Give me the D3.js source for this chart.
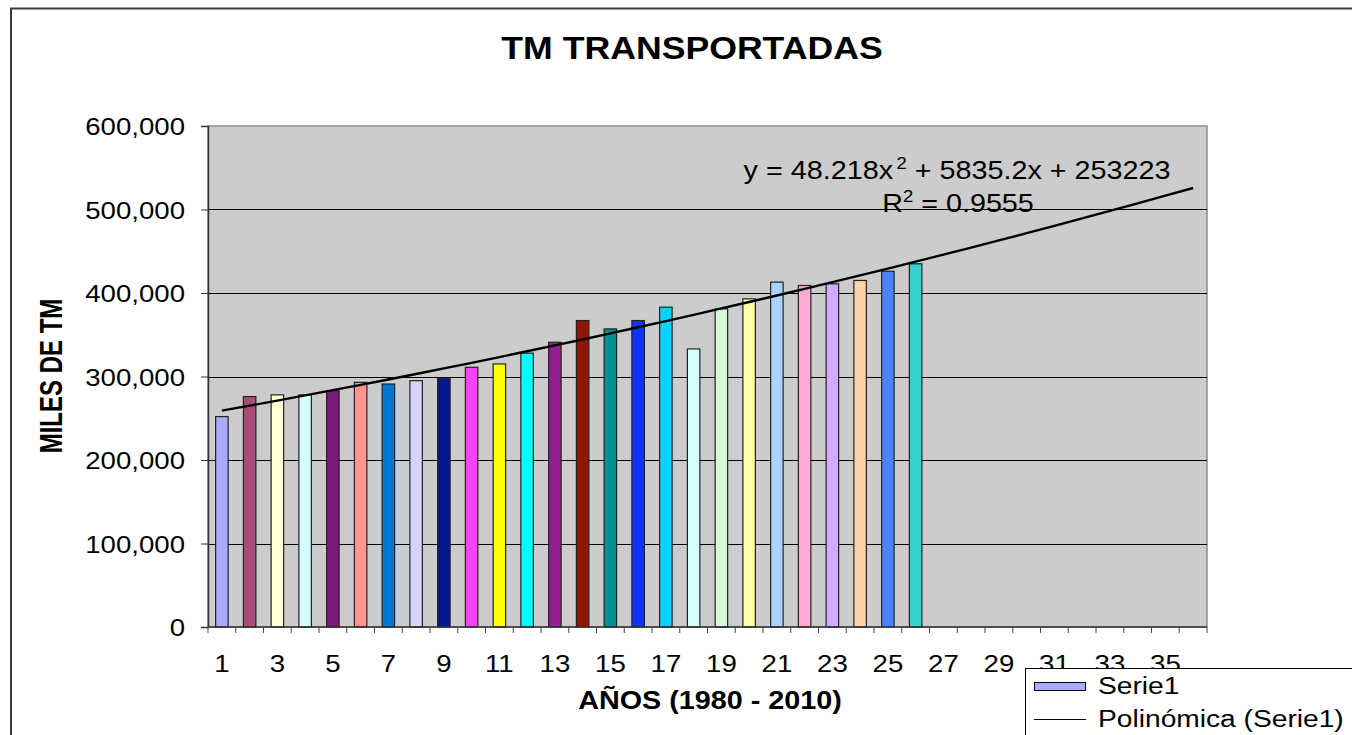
<!DOCTYPE html>
<html>
<head>
<meta charset="utf-8">
<script src="https://cdn.jsdelivr.net/npm/d3@7"></script>
<style>
  html, body { margin: 0; padding: 0; background: #fff; }
  svg { display: block; }
  text { font-family: Arial, "Liberation Sans", sans-serif; fill: #000; }
</style>
</head>
<body>
<svg id="chart" width="1352" height="735"></svg>
<script>
// ---------- data ----------
const categories = d3.range(1, 37);            // 1 .. 36
const tickLabels = d3.range(1, 37, 2);         // 1,3,...,35
const values = [252000, 276000, 278000, 278000, 283000, 293000, 291000, 295000, 298000,
                311000, 315000, 328000, 341000, 367000, 357000, 367000, 383000, 333000,
                381000, 393000, 413000, 409000, 411000, 415000, 426000, 435000];
const barColors = ["#AAAAFF", "#AA4A78", "#FFFFD4", "#D4FFFF", "#7B1A78", "#FF9490", "#0078D4",
                   "#D4D4FF", "#001A8C", "#FF40FF", "#FFFF00", "#00FFFF", "#922090", "#921400",
                   "#009090", "#1034FF", "#00D4FF", "#D4FFFF", "#D4FAD4", "#FFFFAA", "#AAD4FF",
                   "#FFAAD4", "#D4AAFF", "#FFD4AA", "#4A82FF", "#38D0D0"];
const trendCoef = [48.218, 5835.2, 253223];    // a x^2 + b x + c
const rSquared = "0.9555";
const yTicks = [0, 100000, 200000, 300000, 400000, 500000, 600000];
const title = "TM TRANSPORTADAS";
const xTitle = "AÑOS (1980 - 2010)";
const yTitle = "MILES DE TM";
const legendItems = ["Serie1", "Polinómica (Serie1)"];

// ---------- layout ----------
const S = 1.15; // horizontal stretch of the original picture
const svg = d3.select("#chart");
const L = 208, R = 1207, T = 126, B = 627;

const x = d3.scaleBand().domain(categories).range([L, R]).paddingInner(0.55).paddingOuter(0.275);
const y = d3.scaleLinear().domain([0, 600000]).range([B, T]);

function stext(g, px, py, str, size, weight, anchor) {
  return g.append("text")
    .attr("transform", `translate(${px},${py}) scale(${S},1)`)
    .attr("text-anchor", anchor || "start")
    .style("font-size", size + "px")
    .style("font-weight", weight || "normal")
    .text(str);
}

// outer chart frame
svg.append("rect").attr("x", 11).attr("y", 8.5).attr("width", 1500).attr("height", 900)
  .attr("fill", "#fff").attr("stroke", "#3a3a3a").attr("stroke-width", 2);

// plot area
svg.append("rect").attr("x", L).attr("y", T).attr("width", R - L).attr("height", B - T)
  .attr("fill", "#CCCCCC").attr("stroke", "#8c8c8c").attr("stroke-width", 1.5);

// gridlines
svg.append("g").selectAll("line").data(yTicks.filter(v => v > 0 && v < 600000)).join("line")
  .attr("x1", L).attr("x2", R)
  .attr("y1", d => Math.round(y(d)) + 0.5).attr("y2", d => Math.round(y(d)) + 0.5)
  .attr("stroke", "#000").attr("stroke-width", 1);

// bars
svg.append("g").selectAll("rect").data(values).join("rect")
  .attr("x", (d, i) => x(categories[i]))
  .attr("width", x.bandwidth())
  .attr("y", d => y(d))
  .attr("height", d => B - y(d))
  .attr("fill", (d, i) => barColors[i])
  .attr("stroke", "#222").attr("stroke-width", 1.2);

// trendline
const trendPts = [];
for (let k = 0; k < categories.length; k++) {
  const c = categories[k];
  trendPts.push([x(c) + x.bandwidth() / 2, y(trendCoef[0] * c * c + trendCoef[1] * c + trendCoef[2])]);
}
svg.append("path").datum(trendPts)
  .attr("d", d3.line())
  .attr("fill", "none").attr("stroke", "#000").attr("stroke-width", 2.4);

// y axis
const yAxis = svg.append("g").attr("transform", `translate(${L},0)`)
  .call(d3.axisLeft(y).tickValues(yTicks).tickFormat(d3.format(",")).tickSize(7).tickPadding(16));
yAxis.select(".domain").attr("stroke", "#333").attr("stroke-width", 1.5);
yAxis.selectAll(".tick line").attr("stroke", "#333");
yAxis.selectAll(".tick text")
  .attr("x", -23 / S).attr("dy", "0.36em")
  .attr("transform", `scale(${S},1)`)
  .style("font-size", "24px").style("font-family", "Arial, 'Liberation Sans', sans-serif").attr("fill", "#000");

// x axis: boundary ticks
const step = x.step();
const x0 = x(categories[0]) - step * x.paddingOuter();
const xg = svg.append("g");
xg.append("line").attr("x1", L).attr("x2", R).attr("y1", B).attr("y2", B)
  .attr("stroke", "#333").attr("stroke-width", 1.5);
xg.selectAll("line.tk").data(d3.range(0, categories.length + 1)).join("line").attr("class", "tk")
  .attr("x1", i => x0 + i * step).attr("x2", i => x0 + i * step)
  .attr("y1", B).attr("y2", B + 6).attr("stroke", "#444").attr("stroke-width", 1);
tickLabels.forEach(c => {
  stext(xg, x(c) + x.bandwidth() / 2, 672, String(c), 24, "normal", "middle");
});

// titles
stext(svg, 692, 59, title, 31, "bold", "middle");
stext(svg, 710, 709, xTitle, 25, "bold", "middle");
svg.append("text")
  .attr("transform", `translate(61.5,376) scale(1.3,1) rotate(-90)`)
  .attr("text-anchor", "middle")
  .style("font-size", "24px").style("font-weight", "bold")
  .text(yTitle);

// trendline equation
const eq = svg.append("text")
  .attr("transform", `translate(957,179) scale(${S},1)`)
  .attr("text-anchor", "middle").style("font-size", "25px");
eq.append("tspan").text(`y = ${trendCoef[0]}x`);
eq.append("tspan").attr("dy", -10).attr("dx", 3).style("font-size", "16px").text("2");
eq.append("tspan").attr("dy", 10).text(` + ${trendCoef[1]}x + ${trendCoef[2]}`);
const r2 = svg.append("text")
  .attr("transform", `translate(958,212) scale(${S},1)`)
  .attr("text-anchor", "middle").style("font-size", "25px");
r2.append("tspan").text("R");
r2.append("tspan").attr("dy", -10).style("font-size", "16px").text("2");
r2.append("tspan").attr("dy", 10).text(` = ${rSquared}`);

// legend
const lg = svg.append("g");
lg.append("rect").attr("x", 1025.5).attr("y", 668.5).attr("width", 400).attr("height", 200)
  .attr("fill", "#fff").attr("stroke", "#000").attr("stroke-width", 1);
lg.append("rect").attr("x", 1034.5).attr("y", 682.5).attr("width", 51).attr("height", 8)
  .attr("fill", barColors[0]).attr("stroke", "#000").attr("stroke-width", 1);
stext(lg, 1098, 694, legendItems[0], 24.5, "normal", "start");
lg.append("line").attr("x1", 1034).attr("x2", 1086).attr("y1", 719.5).attr("y2", 719.5)
  .attr("stroke", "#000").attr("stroke-width", 1.2);
stext(lg, 1098, 727, legendItems[1], 24.5, "normal", "start");
</script>
</body>
</html>
